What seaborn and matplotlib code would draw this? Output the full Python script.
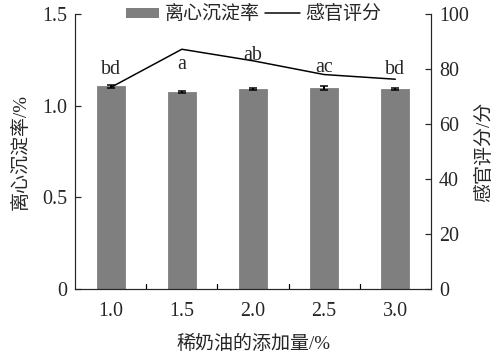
import numpy as np
import pandas as pd
import matplotlib
matplotlib.use("Agg")
import matplotlib.pyplot as plt
import seaborn as sns
from matplotlib.patches import Patch
from matplotlib.lines import Line2D

categories = ["1.0", "1.5", "2.0", "2.5", "3.0"]
sediment = [1.105, 1.075, 1.090, 1.098, 1.090]
sediment_err = [0.006, 0.006, 0.005, 0.010, 0.006]
sensory = [73.3, 87.2, 83.0, 78.0, 76.3]
letters = ["bd", "a", "ab", "ac", "bd"]

sns.set_style("ticks")
plt.rcParams['font.family'] = ['Liberation Serif', 'Noto Sans CJK SC']
plt.rcParams['font.size'] = 20

fig, ax = plt.subplots(figsize=(7, 5), dpi=72)
fig.subplots_adjust(left=0.149, right=0.855, top=0.961, bottom=0.197)

df = pd.DataFrame({"x": categories, "y": sediment})
sns.barplot(data=df, x="x", y="y", color="#7f7f7f", saturation=1, width=0.39,
            errorbar=None, ax=ax, edgecolor="#8a8a8a", linewidth=1)
pos = np.arange(len(categories))
ax.errorbar(pos, sediment, yerr=sediment_err, fmt="none", ecolor="black",
            elinewidth=2, capsize=4, capthick=1.5)
ax.set_ylim(0, 1.5)
ax.set_yticks([0, 0.5, 1.0, 1.5])
ax.set_yticklabels(["0", "0.5", "1.0", "1.5"])
ax.set_xlim(-0.5, 4.5)
ax.set_xlabel("稀奶油的添加量/%", fontsize=19, labelpad=14)
ax.set_ylabel("离心沉淀率/%", fontsize=19, labelpad=12)
ax.tick_params(axis="y", direction="in", length=6, width=1.2, labelsize=20, pad=8)
ax.tick_params(axis="x", length=0, labelsize=20, pad=13)
for b in [0.5, 1.5, 2.5, 3.5]:
    ax.plot([b, b], [0, 0.03], color="black", lw=1.2, clip_on=False)
for s in ["left", "bottom"]:
    ax.spines[s].set_linewidth(1.2)
ax.spines["top"].set_visible(False)

ax2 = ax.twinx()
sns.lineplot(x=pos, y=sensory, ax=ax2, color="black", linewidth=1.5)
ax2.set_ylim(0, 100)
ax2.set_yticks([0, 20, 40, 60, 80, 100])
ax2.set_ylabel("感官评分/分", fontsize=19, labelpad=6)
ax2.tick_params(axis="y", direction="in", length=6, width=1.2, labelsize=20, pad=8)
ax2.spines["right"].set_linewidth(1.2)
ax2.spines["left"].set_visible(False)
ax2.spines["top"].set_visible(False)
ax2.spines["bottom"].set_visible(False)
ax2.set_xlim(-0.5, 4.5)

label_y = [78.2, 80.0, 83.3, 78.8, 78.2]
for p, t, ly in zip(pos, letters, label_y):
    ax2.text(p, ly, t, ha="center", va="baseline", fontsize=20)

handles = [Patch(facecolor="#7f7f7f", label="离心沉淀率"),
           Line2D([0], [0], color="black", lw=1.5, label="感官评分")]
ax2.legend(handles=handles, loc="center", bbox_to_anchor=(0.5, 1.0), ncol=2,
           frameon=False, fontsize=19, handlelength=1.8, handleheight=0.5,
           handletextpad=0.3, columnspacing=0.3, borderaxespad=0)

fig.savefig("out.png", dpi=72)
